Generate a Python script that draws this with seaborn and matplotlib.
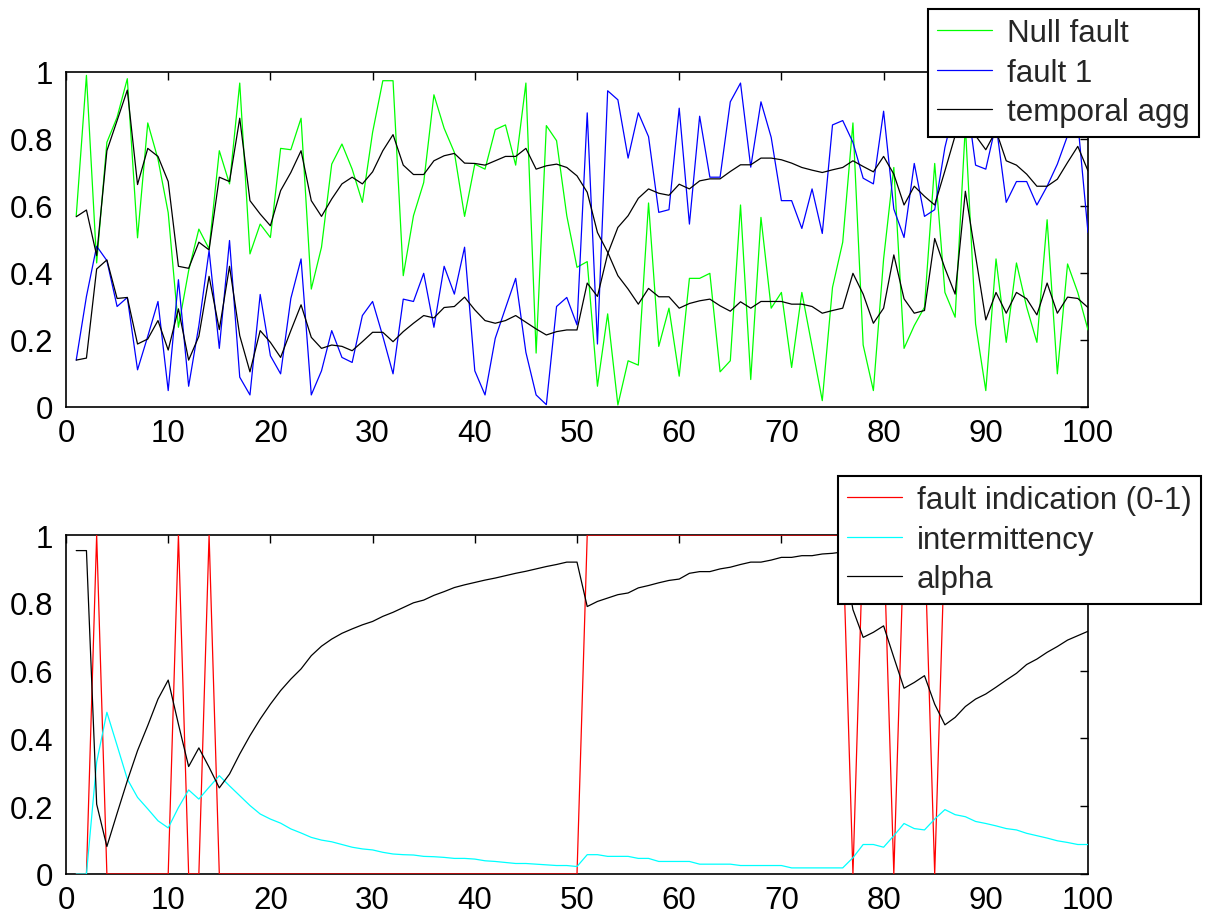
import numpy as np
import pandas as pd
import matplotlib
matplotlib.use("Agg")
import matplotlib.pyplot as plt
import seaborn as sns

# ==========================
# DATA
# ==========================

steps = list(range(1, 101))

null_fault = [
    0.57, 0.99, 0.43, 0.79, 0.865, 0.98, 0.505, 0.848, 0.74, 0.58,
    0.238, 0.407, 0.531, 0.472, 0.765, 0.666, 0.967, 0.457, 0.546, 0.506,
    0.772, 0.768, 0.862, 0.352, 0.477, 0.725, 0.785, 0.71, 0.611, 0.82,
    0.974, 0.974, 0.392, 0.571, 0.67, 0.932, 0.832, 0.76, 0.569, 0.725,
    0.71, 0.828, 0.842, 0.722, 0.967, 0.161, 0.84, 0.795, 0.571, 0.417,
    0.434, 0.062, 0.278, 0.006, 0.138, 0.125, 0.609, 0.181, 0.295, 0.092,
    0.384, 0.384, 0.399, 0.105, 0.138, 0.603, 0.082, 0.566, 0.295, 0.342,
    0.118, 0.342, 0.181, 0.019, 0.357, 0.492, 0.848, 0.185, 0.049, 0.442,
    0.715, 0.175, 0.243, 0.298, 0.727, 0.342, 0.268, 0.84, 0.248, 0.049,
    0.442, 0.193, 0.43, 0.298, 0.193, 0.559, 0.099, 0.427, 0.342, 0.23,
]

fault_1 = [
    0.14, 0.33, 0.48, 0.437, 0.30, 0.327, 0.111, 0.211, 0.315, 0.049,
    0.38, 0.062, 0.243, 0.467, 0.175, 0.497, 0.089, 0.036, 0.336, 0.153,
    0.099, 0.324, 0.442, 0.036, 0.108, 0.228, 0.148, 0.133, 0.273, 0.315,
    0.211, 0.099, 0.322, 0.315, 0.399, 0.238, 0.42, 0.337, 0.477, 0.108,
    0.036, 0.205, 0.295, 0.384, 0.163, 0.036, 0.007, 0.30, 0.327, 0.245,
    0.878, 0.188, 0.944, 0.917, 0.743, 0.878, 0.807, 0.581, 0.589, 0.892,
    0.546, 0.868, 0.686, 0.686, 0.911, 0.967, 0.716, 0.911, 0.805, 0.616,
    0.616, 0.533, 0.651, 0.518, 0.842, 0.855, 0.79, 0.683, 0.666, 0.883,
    0.591, 0.506, 0.727, 0.569, 0.589, 0.775, 0.90, 0.95, 0.722, 0.71,
    0.845, 0.611, 0.673, 0.673, 0.603, 0.659, 0.725, 0.81, 0.85, 0.521,
]

agg_null = [
    0.568, 0.588, 0.452, 0.765, 0.855, 0.946, 0.664, 0.772, 0.748, 0.673,
    0.42, 0.414, 0.492, 0.469, 0.686, 0.673, 0.862, 0.616, 0.576, 0.541,
    0.646, 0.70, 0.765, 0.616, 0.569, 0.621, 0.666, 0.686, 0.666, 0.702,
    0.765, 0.813, 0.722, 0.694, 0.694, 0.735, 0.75, 0.757, 0.728, 0.727,
    0.722, 0.735, 0.748, 0.748, 0.772, 0.71, 0.72, 0.725, 0.715, 0.69,
    0.641, 0.521, 0.462, 0.392, 0.352, 0.307, 0.354, 0.329, 0.329, 0.295,
    0.309, 0.317, 0.322, 0.302, 0.286, 0.314, 0.295, 0.315, 0.315, 0.315,
    0.307, 0.307, 0.30, 0.28, 0.288, 0.295, 0.399, 0.337, 0.25, 0.295,
    0.454, 0.323, 0.28, 0.288, 0.503, 0.414, 0.337, 0.644, 0.451, 0.26,
    0.342, 0.28, 0.342, 0.323, 0.275, 0.37, 0.28, 0.328, 0.324, 0.297,
]

agg_fault = [
    0.14, 0.146, 0.412, 0.439, 0.324, 0.327, 0.188, 0.203, 0.258, 0.17,
    0.293, 0.14, 0.211, 0.39, 0.231, 0.42, 0.213, 0.105, 0.228, 0.193,
    0.148, 0.228, 0.305, 0.208, 0.175, 0.185, 0.181, 0.168, 0.195, 0.223,
    0.223, 0.195, 0.225, 0.25, 0.273, 0.266, 0.297, 0.30, 0.328, 0.29,
    0.258, 0.25, 0.258, 0.273, 0.253, 0.233, 0.215, 0.225, 0.23, 0.23,
    0.37, 0.33, 0.457, 0.536, 0.571, 0.623, 0.651, 0.638, 0.632, 0.665,
    0.651, 0.675, 0.681, 0.681, 0.703, 0.723, 0.723, 0.743, 0.743, 0.738,
    0.728, 0.715, 0.707, 0.70, 0.708, 0.715, 0.735, 0.718, 0.702, 0.748,
    0.695, 0.603, 0.659, 0.629, 0.603, 0.705, 0.81, 0.86, 0.81, 0.768,
    0.825, 0.735, 0.722, 0.695, 0.659, 0.659, 0.68, 0.73, 0.778, 0.705,
]

fault_indication = [
    0, 0, 1, 0, 0, 0, 0, 0, 0, 0,
    1, 0, 0, 1, 0, 0, 0, 0, 0, 0,
    0, 0, 0, 0, 0, 0, 0, 0, 0, 0,
    0, 0, 0, 0, 0, 0, 0, 0, 0, 0,
    0, 0, 0, 0, 0, 0, 0, 0, 0, 0,
    1, 1, 1, 1, 1, 1, 1, 1, 1, 1,
    1, 1, 1, 1, 1, 1, 1, 1, 1, 1,
    1, 1, 1, 1, 1, 1, 0, 1, 1, 1,
    0, 1, 1, 1, 0, 1, 1, 1, 1, 1,
    1, 1, 1, 1, 1, 1, 1, 1, 1, 1,
]

intermittency = [
    0.0, 0.0, 0.33, 0.477, 0.379, 0.28, 0.226, 0.192, 0.157, 0.136,
    0.196, 0.248, 0.221, 0.256, 0.29, 0.26, 0.231, 0.202, 0.177, 0.162,
    0.15, 0.133, 0.121, 0.108, 0.10, 0.095, 0.087, 0.079, 0.074, 0.071,
    0.064, 0.059, 0.057, 0.056, 0.052, 0.051, 0.049, 0.046, 0.046, 0.044,
    0.039, 0.037, 0.034, 0.031, 0.031, 0.029, 0.027, 0.025, 0.025, 0.022,
    0.057, 0.057, 0.052, 0.052, 0.052, 0.046, 0.046, 0.037, 0.037, 0.037,
    0.037, 0.029, 0.029, 0.029, 0.029, 0.025, 0.025, 0.025, 0.025, 0.025,
    0.018, 0.018, 0.018, 0.018, 0.018, 0.018, 0.048, 0.087, 0.087, 0.079,
    0.113, 0.149, 0.134, 0.13, 0.162, 0.19, 0.175, 0.169, 0.155, 0.149,
    0.142, 0.134, 0.13, 0.12, 0.113, 0.106, 0.098, 0.093, 0.087, 0.087,
]

alpha = [
    0.954, 0.954, 0.206, 0.081, 0.179, 0.275, 0.364, 0.438, 0.516, 0.572,
    0.442, 0.317, 0.372, 0.315, 0.254, 0.295, 0.354, 0.408, 0.457, 0.501,
    0.541, 0.575, 0.605, 0.644, 0.672, 0.693, 0.71, 0.723, 0.735, 0.745,
    0.76, 0.772, 0.786, 0.80, 0.808, 0.822, 0.833, 0.845, 0.853, 0.86,
    0.867, 0.873, 0.88, 0.887, 0.893, 0.90, 0.907, 0.913, 0.92, 0.92,
    0.789, 0.804, 0.814, 0.824, 0.829, 0.844, 0.851, 0.859, 0.866, 0.87,
    0.887, 0.892, 0.892, 0.90, 0.905, 0.913, 0.92, 0.92, 0.926, 0.934,
    0.934, 0.939, 0.939, 0.944, 0.946, 0.95, 0.78, 0.698, 0.713, 0.732,
    0.639, 0.548, 0.565, 0.585, 0.501, 0.44, 0.462, 0.494, 0.516, 0.531,
    0.551, 0.572, 0.592, 0.618, 0.634, 0.654, 0.671, 0.69, 0.703, 0.716,
]

x_ticks = [0, 10, 20, 30, 40, 50, 60, 70, 80, 90, 100]
x_tick_labels = ["0", "10", "20", "30", "40", "50", "60", "70", "80", "90", "100"]
y_ticks = [0, 0.2, 0.4, 0.6, 0.8, 1]
y_tick_labels = ["0", "0.2", "0.4", "0.6", "0.8", "1"]

top_df = pd.DataFrame({
    "step": steps,
    "null_fault": null_fault,
    "fault_1": fault_1,
    "agg_null": agg_null,
    "agg_fault": agg_fault,
})

bottom_df = pd.DataFrame({
    "step": steps,
    "fault_indication": fault_indication,
    "intermittency": intermittency,
    "alpha": alpha,
})

# ==========================
# STYLE
# ==========================

sns.set_style("white")
plt.rcParams["font.family"] = ["Liberation Sans", "DejaVu Sans"]
plt.rcParams["xtick.direction"] = "in"
plt.rcParams["ytick.direction"] = "in"

W, H = 1207, 920
fig = plt.figure(figsize=(W / 100, H / 100), dpi=100)

left = 66 / W
width = (1088 - 66) / W
ax_top = fig.add_axes([left, 1 - 408 / H, width, (408 - 73) / H])
ax_bot = fig.add_axes([left, 1 - 875 / H, width, (875 - 536) / H])

lw = 0.9
fs = 22.5
line_z = 3  # lines on top of the spines, like the original

# ==========================
# TOP PANEL
# ==========================

sns.lineplot(data=top_df, x="step", y="null_fault", color="#00ff00",
             linewidth=lw, label="Null fault", ax=ax_top, sort=False, zorder=line_z)
sns.lineplot(data=top_df, x="step", y="fault_1", color="#0000ff",
             linewidth=lw, label="fault 1", ax=ax_top, sort=False, zorder=line_z)
sns.lineplot(data=top_df, x="step", y="agg_null", color="black",
             linewidth=lw, label="temporal agg", ax=ax_top, sort=False, zorder=line_z)
sns.lineplot(data=top_df, x="step", y="agg_fault", color="black",
             linewidth=lw, ax=ax_top, sort=False, zorder=line_z)

# ==========================
# BOTTOM PANEL
# ==========================

sns.lineplot(data=bottom_df, x="step", y="fault_indication", color="#ff0000",
             linewidth=lw, label="fault indication (0-1)", ax=ax_bot, sort=False, zorder=line_z)
sns.lineplot(data=bottom_df, x="step", y="intermittency", color="#00ffff",
             linewidth=lw, label="intermittency", ax=ax_bot, sort=False, zorder=line_z)
sns.lineplot(data=bottom_df, x="step", y="alpha", color="black",
             linewidth=lw, label="alpha", ax=ax_bot, sort=False, zorder=line_z)

for ax in (ax_top, ax_bot):
    ax.set_xlim(0, 100)
    ax.set_ylim(0, 1)
    ax.set_xticks(x_ticks)
    ax.set_xticklabels(x_tick_labels)
    ax.set_yticks(y_ticks)
    ax.set_yticklabels(y_tick_labels)
    ax.set_xlabel("")
    ax.set_ylabel("")
    ax.tick_params(axis="both", which="both", direction="in", length=6,
                   width=1, labelsize=fs, top=True, right=True, colors="black")
    ax.tick_params(axis="x", pad=8)
    ax.tick_params(axis="y", pad=9)
    for s in ax.spines.values():
        s.set_visible(True)
        s.set_color("black")
        s.set_linewidth(1.2)

leg_kw = dict(
    loc="upper right",
    bbox_transform=fig.transFigure,
    frameon=True,
    fancybox=False,
    edgecolor="black",
    framealpha=1,
    borderaxespad=0,
    fontsize=fs,
    handlelength=1.75,
    handletextpad=0.48,
    labelspacing=0.3,
    borderpad=0.3,
)

leg1 = ax_top.legend(bbox_to_anchor=(1199 / W, 1 - 10 / H), **leg_kw)
leg2 = ax_bot.legend(bbox_to_anchor=(1201 / W, 1 - 477 / H), **leg_kw)
for leg in (leg1, leg2):
    leg.get_frame().set_linewidth(1.5)
    leg.set_zorder(10)

fig.savefig("out.png", dpi=100)
plt.close(fig)
